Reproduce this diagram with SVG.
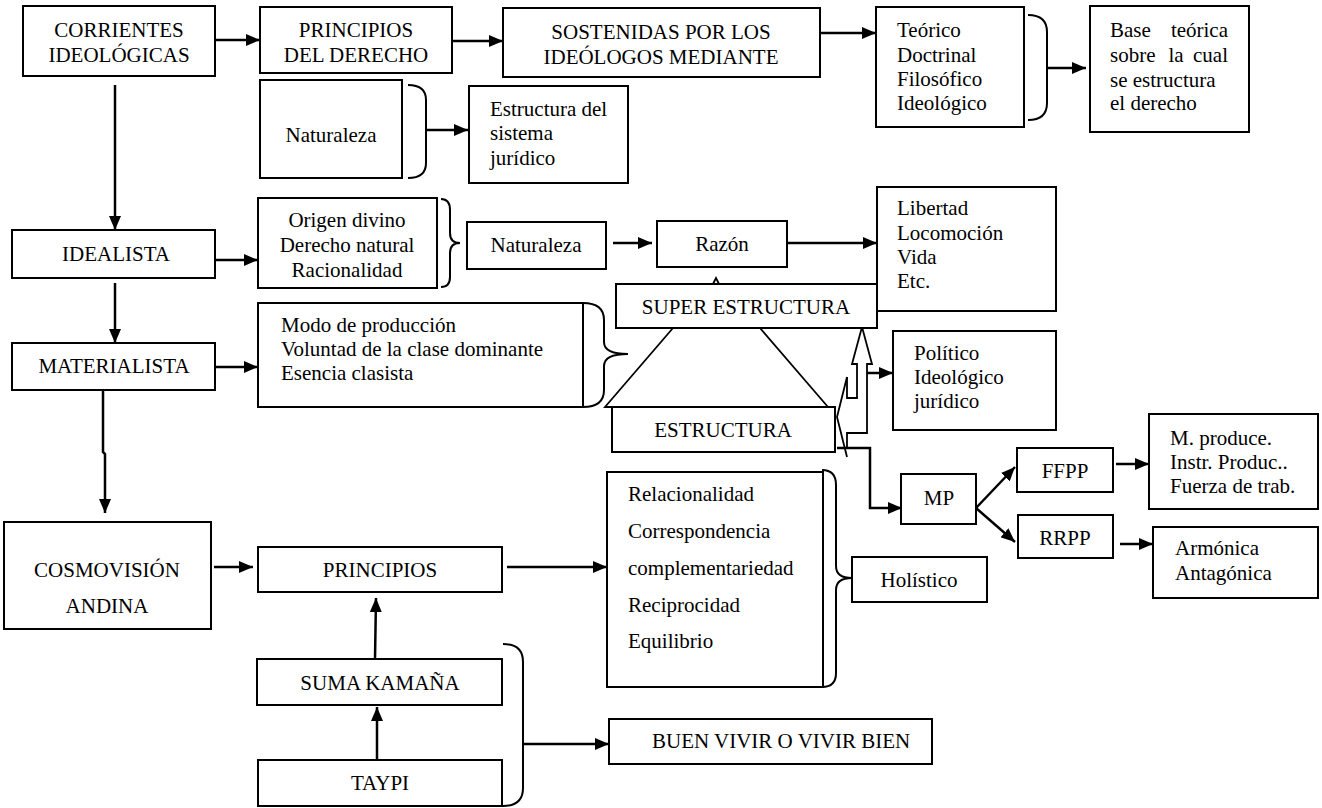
<svg xmlns="http://www.w3.org/2000/svg" width="1322" height="808" viewBox="0 0 1322 808">
<style>
.b{fill:#fff;stroke:#000;stroke-width:2}
.t{font-family:'Liberation Serif','Times New Roman',Times,'DejaVu Serif',serif;font-size:21px;fill:#000}
.m{text-anchor:middle}
.c{fill:none;stroke:#000;stroke-width:2.5}
.a{marker-end:url(#ah)}
.br{fill:none;stroke:#000;stroke-width:2}
.thin{fill:none;stroke:#000;stroke-width:1.8}
</style>
<defs>
<marker id="ah" markerUnits="userSpaceOnUse" markerWidth="14" markerHeight="12" refX="14" refY="6" orient="auto"><path d="M0,0 L14,6 L0,12 z" fill="#000"/></marker>
</defs>
<rect width="1322" height="808" fill="#fff"/>

<g id="connectors">
<path class="c a" d="M213,40 H260"/>
<path class="c a" d="M447,41 H503"/>
<path class="c a" d="M820,33 H876"/>
<path class="br" d="M1028,15 Q1047,15 1047,32 V103 Q1047,120 1028,120"/>
<path class="c a" d="M1047,68 H1086"/>
<path class="br" d="M408,85 Q426,85 426,100 V163 Q426,178 408,178"/>
<path class="c a" d="M426,130 H468"/>
<path class="c a" d="M115,85 V230"/>
<path class="c a" d="M215,260 H258"/>
<path class="br" d="M441,199 Q450,199 450,210 V233 Q450,243 460,243 Q450,243 450,253 V277 Q450,287 441,287"/>
<path class="c a" d="M613,243 H652"/>
<path class="c a" d="M787,243 H877"/>
<path class="c a" d="M115,283 V343"/>
<path class="c a" d="M215,367 H258"/>
<path class="br" d="M583,303 Q604,303 604,320 V342 Q604,354 628,354 Q604,354 604,366 V390 Q604,407 583,407"/>
<path class="c a" d="M103,390 V452 L105,454 V513"/>
<path class="c a" d="M214,567 H253"/>
<path class="c a" d="M507,567 H607"/>
<path class="c a" d="M375,659 L376,598"/>
<path class="c a" d="M377,760 V707"/>
<path class="br" d="M503,644 Q523,644 523,662 V788 Q523,806 503,806"/>
<path class="c a" d="M523,744 H609"/>
<path class="c a" d="M837,448 H870 V508 H902"/>
<path class="c a" d="M976,508 L1015,467"/>
<path class="c a" d="M976,508 L1015,542"/>
<path class="c a" d="M1116,464 H1149"/>
<path class="c a" d="M1120,544 H1153"/>
<path class="c a" d="M867,373 H893"/>
<path class="thin" d="M673,328 L605,407 H828 L760,328"/>
<path class="thin" d="M713,284 L716,278 L719,284"/>
<path class="thin" d="M847,377 V398 H857 V364 H852 L862,327 L872,364 H867 V433 H847 V447"/>
<path class="thin" d="M847,377 L837,417 L847,457"/>
</g>

<g id="corrientes"><rect class="b" x="23" y="6" width="192" height="70"/><text class="t m" x="119" y="37">CORRIENTES</text><text class="t m" x="119" y="62">IDEOLÓGICAS</text></g>
<g id="principios-derecho"><rect class="b" x="260" y="7" width="192" height="66"/><text class="t m" x="356" y="37">PRINCIPIOS</text><text class="t m" x="356" y="62">DEL DERECHO</text></g>
<g id="sostenidas"><rect class="b" x="503" y="8" width="317" height="69"/><text class="t m" x="661" y="39">SOSTENIDAS POR LOS</text><text class="t m" x="661" y="64">IDEÓLOGOS MEDIANTE</text></g>
<g id="teorico"><rect class="b" x="876" y="7" width="148" height="120"/><text class="t" x="897" y="37">Teórico</text><text class="t" x="897" y="61.5">Doctrinal</text><text class="t" x="897" y="86">Filosófico</text><text class="t" x="897" y="110">Ideológico</text></g>
<g id="base-teorica"><rect class="b" x="1090" y="6" width="159" height="126"/><text class="t" x="1110" y="37">Base</text><text class="t" x="1228" y="37" text-anchor="end">teórica</text><text class="t" x="1110" y="62">sobre</text><text class="t m" x="1176" y="62">la</text><text class="t" x="1228" y="62" text-anchor="end">cual</text><text class="t" x="1110" y="87">se estructura</text><text class="t" x="1110" y="110">el derecho</text></g>
<g id="naturaleza-1"><rect class="b" x="260" y="80" width="142" height="98"/><text class="t m" x="331" y="142">Naturaleza</text></g>
<g id="estructura-sistema"><rect class="b" x="469" y="86" width="159" height="97"/><text class="t" x="490" y="116">Estructura del</text><text class="t" x="490" y="140">sistema</text><text class="t" x="490" y="165">jurídico</text></g>
<g id="idealista"><rect class="b" x="12" y="230" width="203" height="48"/><text class="t m" x="116" y="261">IDEALISTA</text></g>
<g id="origen"><rect class="b" x="258" y="198" width="179" height="90"/><text class="t m" x="347" y="227">Origen divino</text><text class="t m" x="347" y="252">Derecho natural</text><text class="t m" x="347" y="277">Racionalidad</text></g>
<g id="naturaleza-2"><rect class="b" x="467" y="222" width="139" height="47"/><text class="t m" x="536" y="252">Naturaleza</text></g>
<g id="razon"><rect class="b" x="657" y="221" width="130" height="46"/><text class="t m" x="722" y="251">Razón</text></g>
<g id="libertad"><rect class="b" x="877" y="187" width="179" height="124"/><text class="t" x="897" y="215">Libertad</text><text class="t" x="897" y="240">Locomoción</text><text class="t" x="897" y="264">Vida</text><text class="t" x="897" y="288">Etc.</text></g>
<g id="super-estructura"><rect class="b" x="616" y="284" width="261" height="44"/><text class="t m" x="746" y="314">SUPER ESTRUCTURA</text></g>
<g id="materialista"><rect class="b" x="12" y="343" width="203" height="47"/><text class="t m" x="114" y="373">MATERIALISTA</text></g>
<g id="modo"><rect class="b" x="258" y="303" width="325" height="104"/><text class="t" x="281" y="332">Modo de producción</text><text class="t" x="281" y="356">Voluntad de la clase dominante</text><text class="t" x="281" y="380">Esencia clasista</text></g>
<g id="estructura"><rect class="b" x="612" y="407" width="223" height="45"/><text class="t m" x="723" y="437">ESTRUCTURA</text></g>
<g id="politico"><rect class="b" x="893" y="331" width="163" height="99"/><text class="t" x="914" y="360">Político</text><text class="t" x="914" y="384">Ideológico</text><text class="t" x="914" y="408">jurídico</text></g>
<g id="mp"><rect class="b" x="901" y="474" width="75" height="50"/><text class="t m" x="939" y="505">MP</text></g>
<g id="ffpp"><rect class="b" x="1017" y="448" width="96" height="44"/><text class="t m" x="1065" y="478">FFPP</text></g>
<g id="rrpp"><rect class="b" x="1018" y="515" width="95" height="43"/><text class="t m" x="1065" y="545">RRPP</text></g>
<g id="m-produce"><rect class="b" x="1149" y="414" width="169" height="95"/><text class="t" x="1170" y="445">M. produce.</text><text class="t" x="1170" y="469">Instr. Produc..</text><text class="t" x="1170" y="493">Fuerza de trab.</text></g>
<g id="armonica"><rect class="b" x="1153" y="527" width="165" height="71"/><text class="t" x="1175" y="555">Armónica</text><text class="t" x="1175" y="580">Antagónica</text></g>
<g id="cosmovision"><rect class="b" x="4" y="522" width="207" height="107"/><text class="t m" x="107" y="577">COSMOVISIÓN</text><text class="t m" x="107" y="613">ANDINA</text></g>
<g id="principios"><rect class="b" x="258" y="547" width="244" height="45"/><text class="t m" x="380" y="577">PRINCIPIOS</text></g>
<g id="relacionalidad"><rect class="b" x="607" y="472" width="216" height="215"/><path class="br" d="M822,470 Q836,470 836,485 V566 Q836,578 852,578 Q836,578 836,590 V673 Q836,687 822,687"/><text class="t" x="628" y="501">Relacionalidad</text><text class="t" x="628" y="538">Correspondencia</text><text class="t" x="628" y="575">complementariedad</text><text class="t" x="628" y="612">Reciprocidad</text><text class="t" x="628" y="648">Equilibrio</text></g>
<g id="holistico"><rect class="b" x="852" y="557" width="135" height="45"/><text class="t m" x="919" y="587">Holístico</text></g>
<g id="suma-kamana"><rect class="b" x="257" y="659" width="245" height="46"/><text class="t m" x="380" y="690">SUMA KAMAÑA</text></g>
<g id="taypi"><rect class="b" x="258" y="760" width="244" height="46"/><text class="t m" x="380" y="790">TAYPI</text></g>
<g id="buen-vivir"><rect class="b" x="609" y="719" width="323" height="45"/><text class="t" x="652" y="748">BUEN VIVIR O VIVIR BIEN</text></g>
</svg>
